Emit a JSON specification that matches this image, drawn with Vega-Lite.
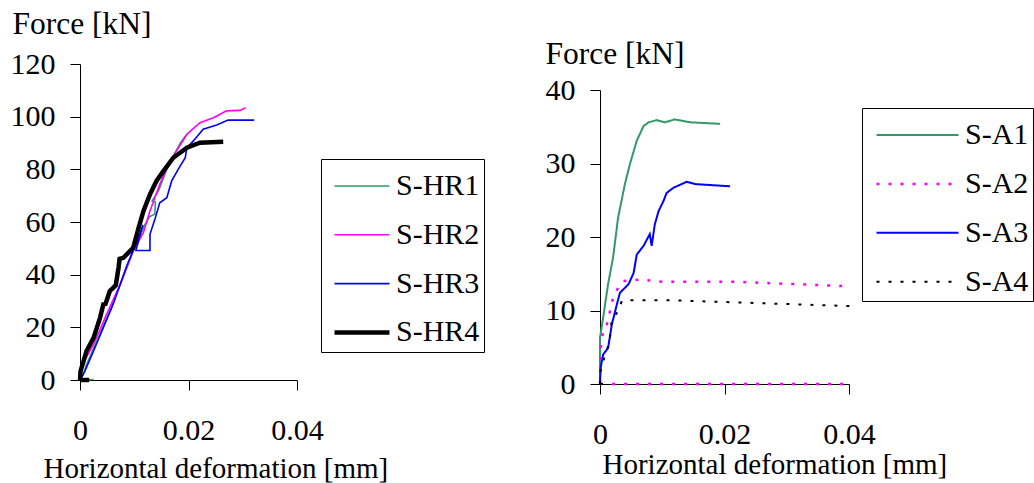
{
  "$schema": "https://vega.github.io/schema/vega-lite/v6.json",
  "padding": {"left": 10, "top": 8, "right": 0, "bottom": 0},
  "background": "white",
  "config": {
    "font": "Liberation Serif",
    "view": {"stroke": null},
    "axis": {
      "grid": false, "domainColor": "#000000", "tickColor": "#000000", "labelColor": "#000000", "titleColor": "#000000",
      "labelFont": "Liberation Serif", "titleFont": "Liberation Serif", "labelFontSize": 30, "titleFontSize": 29,
      "titleFontWeight": "normal", "tickSize": 10, "domainWidth": 1, "tickWidth": 1, "labelFlush": false, "labelOverlap": false
    },
    "legend": {"labelFont": "Liberation Serif", "labelFontSize": 30, "labelColor": "#000000", "titleFont": "Liberation Serif"}
  },
  "datasets": {
    "left": [
      {"s": "S-HR1", "g": "a", "i": 0, "x": 0, "y": 0},
      {"s": "S-HR1", "g": "a", "i": 1, "x": 0.0025, "y": 0.2},
      {"s": "S-HR1", "g": "b", "i": 2, "x": 0, "y": 0},
      {"s": "S-HR1", "g": "b", "i": 3, "x": 0.0006, "y": 2},
      {"s": "S-HR1", "g": "b", "i": 4, "x": 0.0012, "y": 5.9},
      {"s": "S-HR1", "g": "b", "i": 5, "x": 0.0031, "y": 14.8},
      {"s": "S-HR1", "g": "b", "i": 6, "x": 0.0055, "y": 26.2},
      {"s": "S-HR1", "g": "b", "i": 7, "x": 0.0068, "y": 33},
      {"s": "S-HR1", "g": "b", "i": 8, "x": 0.0077, "y": 37.6},
      {"s": "S-HR1", "g": "b", "i": 9, "x": 0.0098, "y": 49},
      {"s": "S-HR1", "g": "b", "i": 10, "x": 0.012, "y": 59.1},
      {"s": "S-HR1", "g": "b", "i": 11, "x": 0.0128, "y": 62},
      {"s": "S-HR1", "g": "b", "i": 12, "x": 0.0138, "y": 63},
      {"s": "S-HR1", "g": "b", "i": 13, "x": 0.0139, "y": 67.6},
      {"s": "S-HR1", "g": "b", "i": 14, "x": 0.0133, "y": 68},
      {"s": "S-HR1", "g": "b", "i": 15, "x": 0.0145, "y": 72},
      {"s": "S-HR1", "g": "b", "i": 16, "x": 0.016, "y": 80},
      {"s": "S-HR1", "g": "b", "i": 17, "x": 0.0172, "y": 85},
      {"s": "S-HR1", "g": "b", "i": 18, "x": 0.0185, "y": 90},
      {"s": "S-HR1", "g": "b", "i": 19, "x": 0.0196, "y": 93},
      {"s": "S-HR2", "g": "a", "i": 0, "x": 0, "y": 0},
      {"s": "S-HR2", "g": "a", "i": 1, "x": 0.0002, "y": 5},
      {"s": "S-HR2", "g": "a", "i": 2, "x": 0.0025, "y": 13.5},
      {"s": "S-HR2", "g": "a", "i": 3, "x": 0.0049, "y": 24.9},
      {"s": "S-HR2", "g": "a", "i": 4, "x": 0.0074, "y": 36.3},
      {"s": "S-HR2", "g": "a", "i": 5, "x": 0.0098, "y": 49},
      {"s": "S-HR2", "g": "a", "i": 6, "x": 0.0117, "y": 56},
      {"s": "S-HR2", "g": "a", "i": 7, "x": 0.0129, "y": 64.2},
      {"s": "S-HR2", "g": "a", "i": 8, "x": 0.0147, "y": 74.3},
      {"s": "S-HR2", "g": "a", "i": 9, "x": 0.0166, "y": 83.2},
      {"s": "S-HR2", "g": "a", "i": 10, "x": 0.0184, "y": 88.9},
      {"s": "S-HR2", "g": "a", "i": 11, "x": 0.0197, "y": 93.3},
      {"s": "S-HR2", "g": "a", "i": 12, "x": 0.0221, "y": 97.7},
      {"s": "S-HR2", "g": "a", "i": 13, "x": 0.0246, "y": 99.6},
      {"s": "S-HR2", "g": "a", "i": 14, "x": 0.027, "y": 102.2},
      {"s": "S-HR2", "g": "a", "i": 15, "x": 0.0295, "y": 102.4},
      {"s": "S-HR2", "g": "a", "i": 16, "x": 0.0305, "y": 103.4},
      {"s": "S-HR3", "g": "a", "i": 0, "x": 0, "y": 0},
      {"s": "S-HR3", "g": "a", "i": 1, "x": 0.0009, "y": 3.4},
      {"s": "S-HR3", "g": "a", "i": 2, "x": 0.0025, "y": 11},
      {"s": "S-HR3", "g": "a", "i": 3, "x": 0.0043, "y": 19.9},
      {"s": "S-HR3", "g": "a", "i": 4, "x": 0.0061, "y": 28.7},
      {"s": "S-HR3", "g": "a", "i": 5, "x": 0.0074, "y": 36.3},
      {"s": "S-HR3", "g": "a", "i": 6, "x": 0.0086, "y": 43.3},
      {"s": "S-HR3", "g": "a", "i": 7, "x": 0.0095, "y": 47.7},
      {"s": "S-HR3", "g": "a", "i": 8, "x": 0.0111, "y": 55.9},
      {"s": "S-HR3", "g": "a", "i": 9, "x": 0.0116, "y": 58.9},
      {"s": "S-HR3", "g": "a", "i": 10, "x": 0.0103, "y": 49.2},
      {"s": "S-HR3", "g": "a", "i": 11, "x": 0.0129, "y": 49.2},
      {"s": "S-HR3", "g": "a", "i": 12, "x": 0.0129, "y": 55.3},
      {"s": "S-HR3", "g": "a", "i": 13, "x": 0.0138, "y": 61},
      {"s": "S-HR3", "g": "a", "i": 14, "x": 0.0147, "y": 67.3},
      {"s": "S-HR3", "g": "a", "i": 15, "x": 0.016, "y": 69.2},
      {"s": "S-HR3", "g": "a", "i": 16, "x": 0.0169, "y": 75.6},
      {"s": "S-HR3", "g": "a", "i": 17, "x": 0.0181, "y": 80},
      {"s": "S-HR3", "g": "a", "i": 18, "x": 0.0194, "y": 84.4},
      {"s": "S-HR3", "g": "a", "i": 19, "x": 0.0197, "y": 88.2},
      {"s": "S-HR3", "g": "a", "i": 20, "x": 0.0209, "y": 90.8},
      {"s": "S-HR3", "g": "a", "i": 21, "x": 0.0227, "y": 95.2},
      {"s": "S-HR3", "g": "a", "i": 22, "x": 0.0252, "y": 96.8},
      {"s": "S-HR3", "g": "a", "i": 23, "x": 0.0273, "y": 98.7},
      {"s": "S-HR3", "g": "a", "i": 24, "x": 0.0321, "y": 98.7},
      {"s": "S-HR4", "g": "a", "i": 0, "x": 0, "y": 0},
      {"s": "S-HR4", "g": "a", "i": 1, "x": 0.0017, "y": 0},
      {"s": "S-HR4", "g": "b", "i": 2, "x": 0, "y": 0},
      {"s": "S-HR4", "g": "b", "i": 3, "x": 0.0001, "y": 3.4},
      {"s": "S-HR4", "g": "b", "i": 4, "x": 0.0012, "y": 11},
      {"s": "S-HR4", "g": "b", "i": 5, "x": 0.0025, "y": 16},
      {"s": "S-HR4", "g": "b", "i": 6, "x": 0.0037, "y": 23.7},
      {"s": "S-HR4", "g": "b", "i": 7, "x": 0.0043, "y": 28.7},
      {"s": "S-HR4", "g": "b", "i": 8, "x": 0.0047, "y": 28.9},
      {"s": "S-HR4", "g": "b", "i": 9, "x": 0.0055, "y": 33.8},
      {"s": "S-HR4", "g": "b", "i": 10, "x": 0.0061, "y": 35},
      {"s": "S-HR4", "g": "b", "i": 11, "x": 0.0066, "y": 36},
      {"s": "S-HR4", "g": "b", "i": 12, "x": 0.0071, "y": 42.6},
      {"s": "S-HR4", "g": "b", "i": 13, "x": 0.0073, "y": 46},
      {"s": "S-HR4", "g": "b", "i": 14, "x": 0.008, "y": 46.4},
      {"s": "S-HR4", "g": "b", "i": 15, "x": 0.0098, "y": 50.2},
      {"s": "S-HR4", "g": "b", "i": 16, "x": 0.0108, "y": 57.8},
      {"s": "S-HR4", "g": "b", "i": 17, "x": 0.0117, "y": 64.2},
      {"s": "S-HR4", "g": "b", "i": 18, "x": 0.0129, "y": 70.5},
      {"s": "S-HR4", "g": "b", "i": 19, "x": 0.0141, "y": 75.6},
      {"s": "S-HR4", "g": "b", "i": 20, "x": 0.0154, "y": 79.4},
      {"s": "S-HR4", "g": "b", "i": 21, "x": 0.0172, "y": 84.4},
      {"s": "S-HR4", "g": "b", "i": 22, "x": 0.0197, "y": 88.2},
      {"s": "S-HR4", "g": "b", "i": 23, "x": 0.0221, "y": 90.1},
      {"s": "S-HR4", "g": "b", "i": 24, "x": 0.0264, "y": 90.5}
    ],
    "right": [
      {"s": "S-A1", "g": "a", "i": 0, "x": 0, "y": 0},
      {"s": "S-A1", "g": "a", "i": 1, "x": 0, "y": 6.3},
      {"s": "S-A1", "g": "a", "i": 2, "x": 0.0005, "y": 9},
      {"s": "S-A1", "g": "a", "i": 3, "x": 0.0013, "y": 13.6},
      {"s": "S-A1", "g": "a", "i": 4, "x": 0.0021, "y": 17.2},
      {"s": "S-A1", "g": "a", "i": 5, "x": 0.0029, "y": 22.6},
      {"s": "S-A1", "g": "a", "i": 6, "x": 0.004, "y": 27.2},
      {"s": "S-A1", "g": "a", "i": 7, "x": 0.0048, "y": 29.9},
      {"s": "S-A1", "g": "a", "i": 8, "x": 0.0059, "y": 33.1},
      {"s": "S-A1", "g": "a", "i": 9, "x": 0.007, "y": 35.1},
      {"s": "S-A1", "g": "a", "i": 10, "x": 0.0078, "y": 35.6},
      {"s": "S-A1", "g": "a", "i": 11, "x": 0.0091, "y": 35.9},
      {"s": "S-A1", "g": "a", "i": 12, "x": 0.0104, "y": 35.6},
      {"s": "S-A1", "g": "a", "i": 13, "x": 0.012, "y": 36},
      {"s": "S-A1", "g": "a", "i": 14, "x": 0.0145, "y": 35.6},
      {"s": "S-A1", "g": "a", "i": 15, "x": 0.0193, "y": 35.4},
      {"s": "S-A2", "g": "a", "i": 0, "x": 0, "y": 0},
      {"s": "S-A2", "g": "a", "i": 1, "x": 0.0001, "y": 4.9},
      {"s": "S-A2", "g": "a", "i": 2, "x": 0.0005, "y": 7.2},
      {"s": "S-A2", "g": "a", "i": 3, "x": 0.0011, "y": 8.1},
      {"s": "S-A2", "g": "a", "i": 4, "x": 0.0016, "y": 9.9},
      {"s": "S-A2", "g": "a", "i": 5, "x": 0.0021, "y": 11.7},
      {"s": "S-A2", "g": "a", "i": 6, "x": 0.0029, "y": 13.1},
      {"s": "S-A2", "g": "a", "i": 7, "x": 0.0037, "y": 14},
      {"s": "S-A2", "g": "a", "i": 8, "x": 0.0064, "y": 14.2},
      {"s": "S-A2", "g": "a", "i": 9, "x": 0.0102, "y": 13.9},
      {"s": "S-A2", "g": "a", "i": 10, "x": 0.022, "y": 13.9},
      {"s": "S-A2", "g": "a", "i": 11, "x": 0.0399, "y": 13.3},
      {"s": "S-A2", "g": "b", "i": 12, "x": 0, "y": 0},
      {"s": "S-A2", "g": "b", "i": 13, "x": 0.04, "y": 0},
      {"s": "S-A3", "g": "a", "i": 0, "x": 0, "y": 0},
      {"s": "S-A3", "g": "a", "i": 1, "x": 0.0001, "y": 2.2},
      {"s": "S-A3", "g": "a", "i": 2, "x": 0.0005, "y": 4},
      {"s": "S-A3", "g": "a", "i": 3, "x": 0.0013, "y": 4.9},
      {"s": "S-A3", "g": "a", "i": 4, "x": 0.0019, "y": 8.1},
      {"s": "S-A3", "g": "a", "i": 5, "x": 0.0027, "y": 10.8},
      {"s": "S-A3", "g": "a", "i": 6, "x": 0.0032, "y": 12.4},
      {"s": "S-A3", "g": "a", "i": 7, "x": 0.0046, "y": 13.6},
      {"s": "S-A3", "g": "a", "i": 8, "x": 0.0054, "y": 15.1},
      {"s": "S-A3", "g": "a", "i": 9, "x": 0.0059, "y": 17.6},
      {"s": "S-A3", "g": "a", "i": 10, "x": 0.007, "y": 18.8},
      {"s": "S-A3", "g": "a", "i": 11, "x": 0.008, "y": 20.4},
      {"s": "S-A3", "g": "a", "i": 12, "x": 0.0083, "y": 18.8},
      {"s": "S-A3", "g": "a", "i": 13, "x": 0.0088, "y": 21.7},
      {"s": "S-A3", "g": "a", "i": 14, "x": 0.0094, "y": 23.5},
      {"s": "S-A3", "g": "a", "i": 15, "x": 0.0102, "y": 24.9},
      {"s": "S-A3", "g": "a", "i": 16, "x": 0.0107, "y": 26},
      {"s": "S-A3", "g": "a", "i": 17, "x": 0.0118, "y": 26.7},
      {"s": "S-A3", "g": "a", "i": 18, "x": 0.0139, "y": 27.5},
      {"s": "S-A3", "g": "a", "i": 19, "x": 0.0153, "y": 27.2},
      {"s": "S-A3", "g": "a", "i": 20, "x": 0.0209, "y": 26.9},
      {"s": "S-A4", "g": "a", "i": 0, "x": 0, "y": 0},
      {"s": "S-A4", "g": "a", "i": 1, "x": 0.0013, "y": 0},
      {"s": "S-A4", "g": "b", "i": 2, "x": 0, "y": 0},
      {"s": "S-A4", "g": "b", "i": 3, "x": 0.0001, "y": 1.8},
      {"s": "S-A4", "g": "b", "i": 4, "x": 0.0005, "y": 3.1},
      {"s": "S-A4", "g": "b", "i": 5, "x": 0.0011, "y": 4.5},
      {"s": "S-A4", "g": "b", "i": 6, "x": 0.0016, "y": 6.3},
      {"s": "S-A4", "g": "b", "i": 7, "x": 0.0019, "y": 8.8},
      {"s": "S-A4", "g": "b", "i": 8, "x": 0.0024, "y": 9.3},
      {"s": "S-A4", "g": "b", "i": 9, "x": 0.0029, "y": 9.9},
      {"s": "S-A4", "g": "b", "i": 10, "x": 0.0035, "y": 11.3},
      {"s": "S-A4", "g": "b", "i": 11, "x": 0.0046, "y": 11.4},
      {"s": "S-A4", "g": "b", "i": 12, "x": 0.0112, "y": 11.4},
      {"s": "S-A4", "g": "b", "i": 13, "x": 0.022, "y": 11.1},
      {"s": "S-A4", "g": "b", "i": 14, "x": 0.0402, "y": 10.6}
    ]
  },
  "bounds": "flush",
  "spacing": 303,
  "resolve": {
    "scale": {"color": "independent", "strokeWidth": "independent", "strokeDash": "independent", "x": "independent", "y": "independent"},
    "legend": {"color": "independent", "strokeWidth": "independent", "strokeDash": "independent"}
  },
  "hconcat": [
    {
      "width": 217,
      "height": 316,
      "data": {"name": "left"},
      "mark": {"type": "line", "clip": false},
      "encoding": {
        "x": {
          "field": "x", "type": "quantitative",
          "scale": {"domain": [0, 0.04], "nice": false},
          "axis": {
            "title": "Horizontal deformation [mm]", "values": [0, 0.02, 0.04], "format": "~g",
            "labelBaseline": "alphabetic", "labelPadding": 49,
            "titleX": -37, "titleY": 97, "titleAlign": "left", "titleBaseline": "alphabetic"
          }
        },
        "y": {
          "field": "y", "type": "quantitative",
          "scale": {"domain": [0, 120], "nice": false},
          "axis": {
            "title": "Force [kN]", "values": [0, 20, 40, 60, 80, 100, 120], "labelPadding": 15, "titleFontSize": 31.5,
            "titleAngle": 0, "titleX": -68, "titleY": -31, "titleAlign": "left", "titleBaseline": "alphabetic"
          }
        },
        "color": {
          "field": "s", "type": "nominal", "title": "HR",
          "scale": {"domain": ["S-HR1", "S-HR2", "S-HR3", "S-HR4"], "range": ["#339966", "#ff00ff", "#0000ff", "#000000"]},
          "legend": {
            "title": " ", "titleFontSize": 2, "titlePadding": 6, "orient": "none", "legendX": 241, "legendY": 95,
            "symbolType": "stroke", "symbolSize": 3025, "clipHeight": 30, "rowPadding": 18.8, "padding": 4,
            "symbolOffset": 7, "labelOffset": 4, "strokeColor": "#000000", "fillColor": "#ffffff"
          }
        },
        "strokeWidth": {
          "field": "s", "type": "nominal", "title": "HR",
          "scale": {"type": "ordinal", "domain": ["S-HR1", "S-HR2", "S-HR3", "S-HR4"], "range": [1.6, 1.6, 1.6, 4.5]},
          "legend": {
            "title": " ", "titleFontSize": 2, "titlePadding": 6, "orient": "none", "legendX": 241, "legendY": 95,
            "symbolType": "stroke", "symbolSize": 3025, "clipHeight": 30, "rowPadding": 18.8, "padding": 4,
            "symbolOffset": 7, "labelOffset": 4, "strokeColor": "#000000", "fillColor": "#ffffff"
          }
        },
        "detail": {"field": "g", "type": "nominal"},
        "order": {"field": "i", "type": "quantitative"}
      }
    },
    {
      "width": 249,
      "height": 320,
      "data": {"name": "right"},
      "mark": {"type": "line", "clip": false},
      "encoding": {
        "x": {
          "field": "x", "type": "quantitative",
          "scale": {"domain": [0, 0.04], "nice": false},
          "axis": {
            "title": "Horizontal deformation [mm]", "values": [0, 0.02, 0.04], "format": "~g",
            "labelBaseline": "alphabetic", "labelPadding": 49,
            "titleX": 2, "titleY": 89, "titleAlign": "left", "titleBaseline": "alphabetic"
          }
        },
        "y": {
          "field": "y", "type": "quantitative",
          "scale": {"domain": [0, 40], "nice": false, "range": [320, 26]},
          "axis": {
            "title": "Force [kN]", "values": [0, 10, 20, 30, 40], "labelPadding": 15, "titleFontSize": 31.5,
            "titleAngle": 0, "titleX": -55, "titleY": -1, "titleAlign": "left", "titleBaseline": "alphabetic"
          }
        },
        "color": {
          "field": "s", "type": "nominal", "title": "A",
          "scale": {"domain": ["S-A1", "S-A2", "S-A3", "S-A4"], "range": ["#339966", "#ff00ff", "#0000ff", "#000000"]},
          "legend": {
            "title": " ", "titleFontSize": 2, "titlePadding": 6, "orient": "none", "legendX": 262, "legendY": 44,
            "symbolType": "stroke", "symbolSize": 6724, "clipHeight": 30, "rowPadding": 18.9, "padding": 4,
            "symbolOffset": 9, "labelOffset": 5, "strokeColor": "#000000", "fillColor": "#ffffff"
          }
        },
        "strokeWidth": {
          "field": "s", "type": "nominal", "title": "A",
          "scale": {"type": "ordinal", "domain": ["S-A1", "S-A2", "S-A3", "S-A4"], "range": [2, 2.5, 2, 2]},
          "legend": {
            "title": " ", "titleFontSize": 2, "titlePadding": 6, "orient": "none", "legendX": 262, "legendY": 44,
            "symbolType": "stroke", "symbolSize": 6724, "clipHeight": 30, "rowPadding": 18.9, "padding": 4,
            "symbolOffset": 9, "labelOffset": 5, "strokeColor": "#000000", "fillColor": "#ffffff"
          }
        },
        "strokeDash": {
          "field": "s", "type": "nominal", "title": "A",
          "scale": {"type": "ordinal", "domain": ["S-A1", "S-A2", "S-A3", "S-A4"], "range": [[1, 0], [3, 9], [1, 0], [3, 9]]},
          "legend": {
            "title": " ", "titleFontSize": 2, "titlePadding": 6, "orient": "none", "legendX": 262, "legendY": 44,
            "symbolType": "stroke", "symbolSize": 6724, "clipHeight": 30, "rowPadding": 18.9, "padding": 4,
            "symbolOffset": 9, "labelOffset": 5, "strokeColor": "#000000", "fillColor": "#ffffff"
          }
        },
        "detail": {"field": "g", "type": "nominal"},
        "order": {"field": "i", "type": "quantitative"}
      }
    }
  ]
}
